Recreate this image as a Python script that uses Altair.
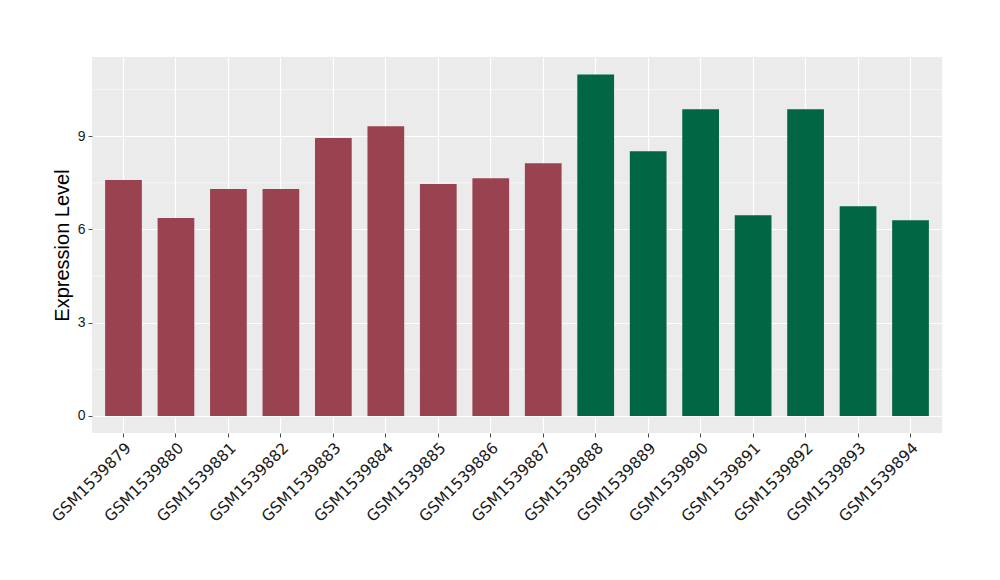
import altair as alt
import pandas as pd

samples = ["GSM1539879", "GSM1539880", "GSM1539881", "GSM1539882", "GSM1539883",
           "GSM1539884", "GSM1539885", "GSM1539886", "GSM1539887", "GSM1539888",
           "GSM1539889", "GSM1539890", "GSM1539891", "GSM1539892", "GSM1539893",
           "GSM1539894"]
values = [7.59, 6.37, 7.30, 7.30, 8.94, 9.32, 7.46, 7.65, 8.13, 10.99,
          8.52, 9.87, 6.46, 9.87, 6.75, 6.30]
groups = ["A"] * 9 + ["B"] * 7
group_colors = ["#994350", "#006644"]
y_ticks = [0, 3, 6, 9]
minor_ticks = [1.5, 4.5, 7.5, 10.5]

df = pd.DataFrame({"sample": samples, "value": values, "group": groups})
minor_df = pd.DataFrame({"v": minor_ticks})

y_scale = alt.Scale(domain=[-0.55, 11.55], nice=False, zero=False)

bars = alt.Chart(df).mark_bar().encode(
    x=alt.X("sample:N", sort=samples,
            scale=alt.Scale(paddingInner=0.3, paddingOuter=0.25),
            axis=alt.Axis(title=None, labelAngle=-45, labelAlign="right",
                          labelBaseline="top", labelFont="DejaVu Sans",
                          labelFontSize=15.5, labelColor="#1a1a1a",
                          grid=True, gridColor="white", gridWidth=1.2,
                          tickColor="#4d4d4d", tickSize=4, domain=False,
                          labelPadding=3)),
    y=alt.Y("value:Q", scale=y_scale,
            axis=alt.Axis(title="Expression Level", values=y_ticks,
                          titleFont="Liberation Sans", titleFontSize=20,
                          titleFontWeight="normal", titleColor="black",
                          titlePadding=5,
                          labelFont="Liberation Sans", labelFontSize=14,
                          labelColor="#1a1a1a", grid=True, gridColor="white",
                          gridWidth=1.2, tickColor="#4d4d4d", tickSize=4,
                          domain=False, labelPadding=3)),
    color=alt.Color("group:N", scale=alt.Scale(domain=["A", "B"], range=group_colors),
                    legend=None),
)

minor = alt.Chart(minor_df).mark_rule(color="white", strokeWidth=0.6).encode(
    y=alt.Y("v:Q", scale=y_scale)
)

chart = alt.layer(minor, bars).properties(
    width=850, height=376,
    padding={"left": 84, "top": 49, "right": 50, "bottom": 130},
    autosize=alt.AutoSizeParams(type="none"),
).configure_view(fill="#EBEBEB", stroke=None)

chart.save("out.html", embed_options={"renderer": "svg", "actions": False})
